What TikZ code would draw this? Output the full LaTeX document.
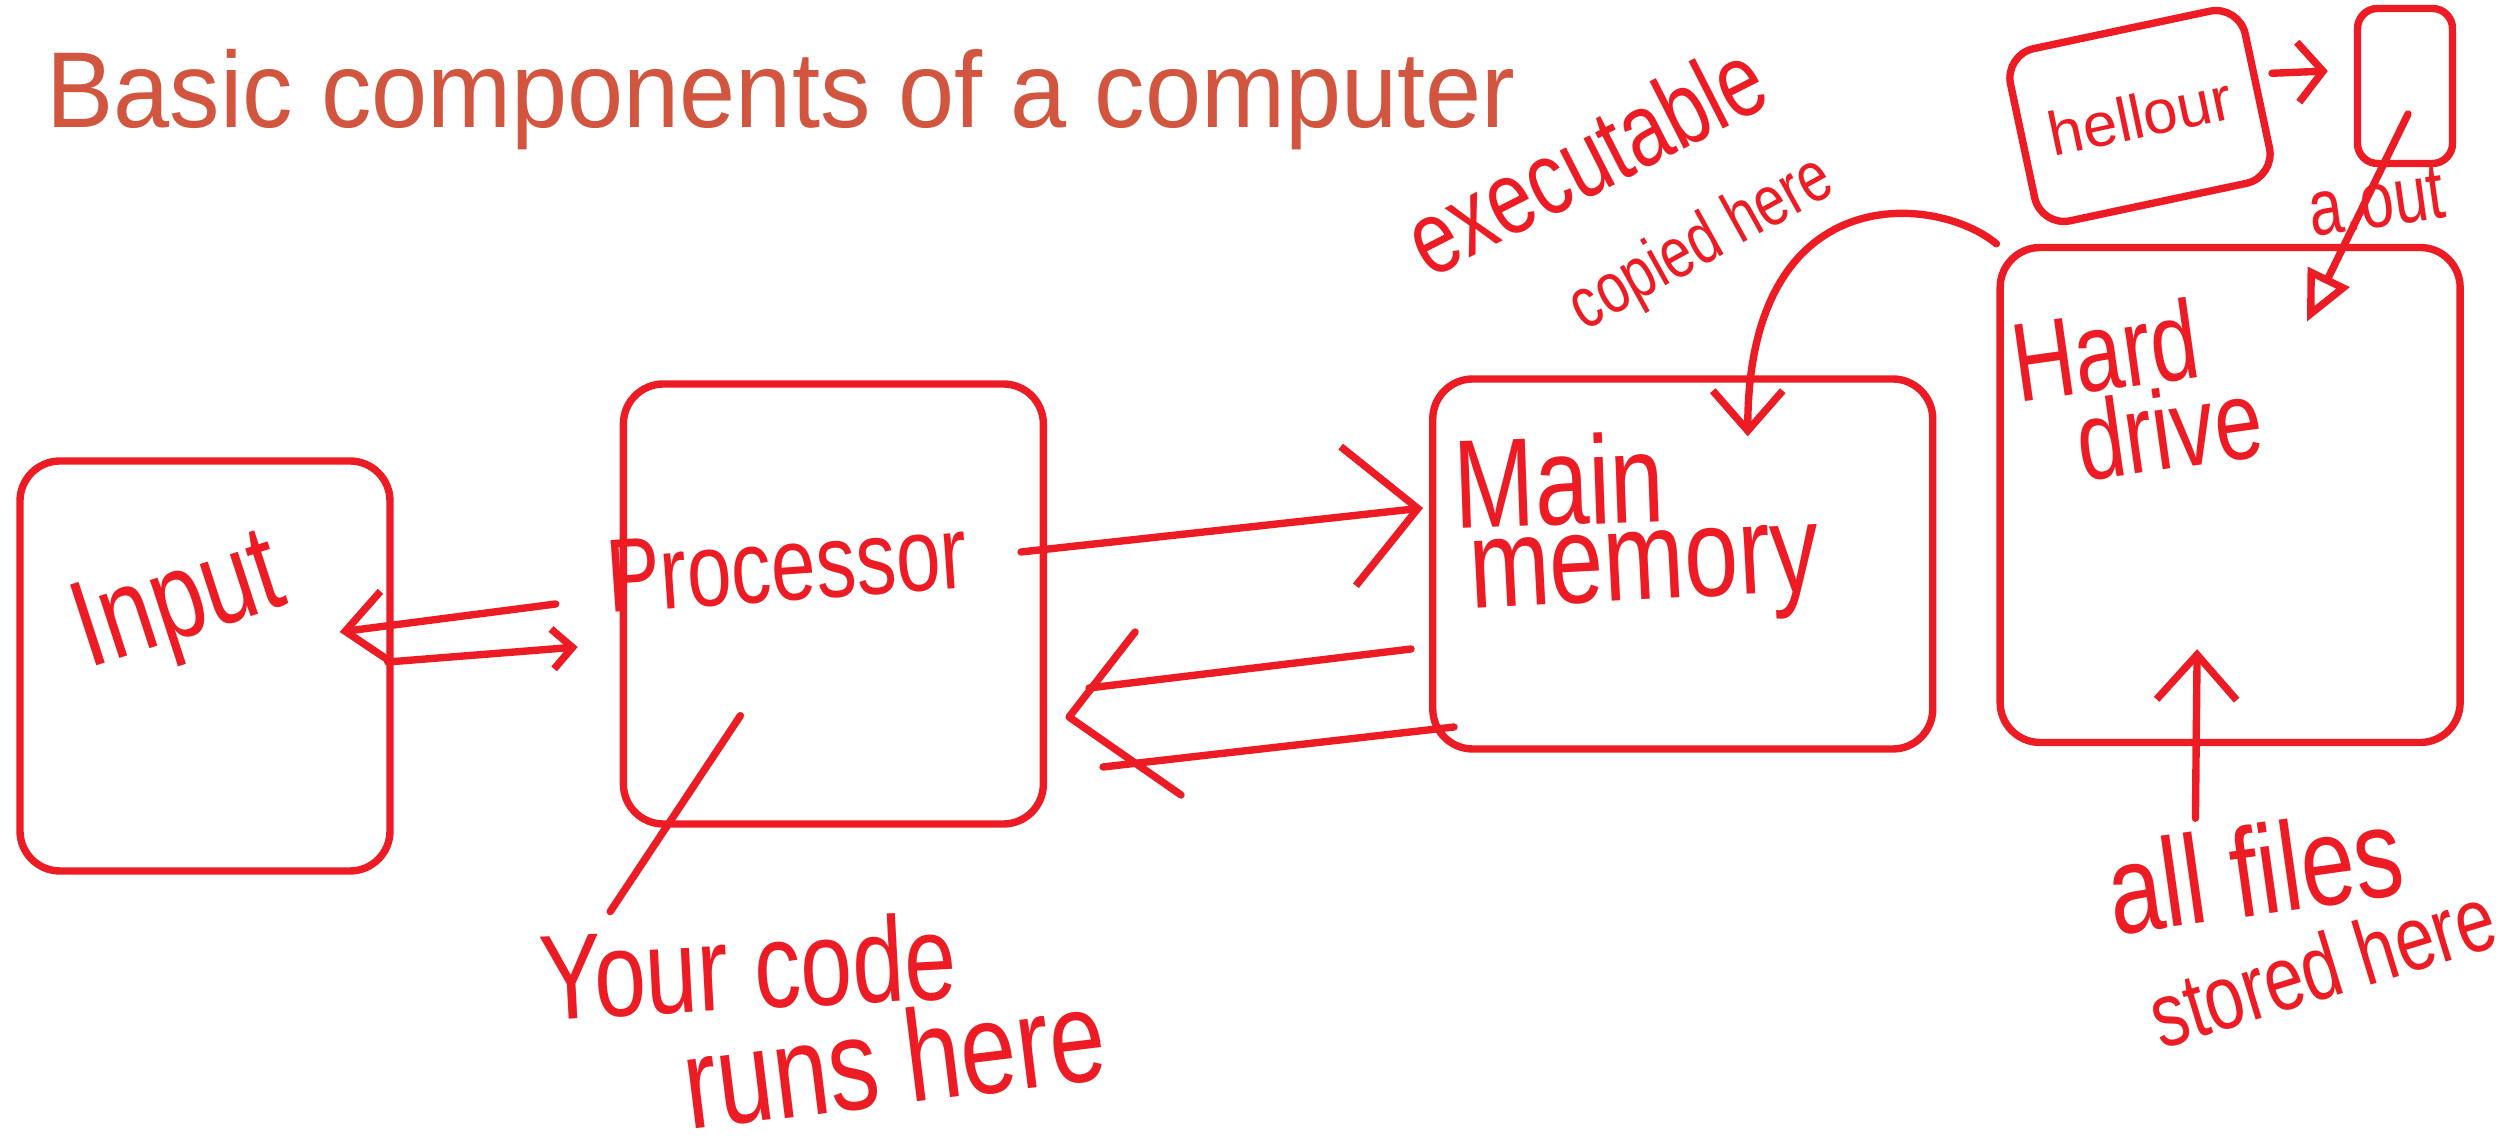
\documentclass[tikz,border=0pt]{standalone}
\usepackage{fontspec}
\setmainfont{Liberation Sans}
\usetikzlibrary{arrows.meta,positioning,calc}

\definecolor{penred}{RGB}{237,28,36}
\definecolor{titlered}{RGB}{210,85,63}

\begin{document}
\begin{tikzpicture}[
    > = {Straight Barb[length=4mm,width=7mm]}, % arrow head style
    pen/.style = {draw=penred, line width=2.1pt, line cap=round, line join=round},
    unit/.style = {pen, rounded corners=4mm, inner sep=0pt},
    hand/.style = {text=penred, inner sep=0pt},
    tall/.style = {yscale=1.3}, % handwriting is taller than the font
    fs/.style = {font=\fontsize{#1}{#1}\selectfont},
    ]

    \path[use as bounding box, fill=white] (0,0) rectangle (25.07,-11.47);

    \node[anchor=base west, text=titlered, fs=30.7] (title) at (0.34,-1.28)
        {\scalebox{0.935}[1]{Basic components of a computer}};

    % the four units
    \node[unit, minimum width=3.7cm, minimum height=4.1cm] (input) at (2.05,-6.66) {};
    \node[unit, minimum width=4.2cm, minimum height=4.4cm] (proc) [right=2.26cm of input, yshift=6.2mm] {};
    \node[unit, minimum width=5cm, minimum height=3.7cm] (mem) [right=3.82cm of proc, yshift=4mm] {};
    \node[unit, minimum width=4.6cm, minimum height=4.95cm] (hdd) [right=0.6cm of mem, yshift=6.9mm] {};

    % files on the drive
    \node[unit, rounded corners=3mm, minimum width=2.4cm, minimum height=1.76cm, rotate=12,
        text=penred, fs=17.6] (hello) at (21.40,-1.16) {hellour};
    \node[unit, rounded corners=2mm, minimum width=0.95cm, minimum height=1.55cm] (aout) at (24.05,-0.86) {};

    % labels
    \node[hand, fs=27, rotate=18, tall] (inputtxt) at (1.80,-6.08) {Input};
    \node[hand, fs=22.8, rotate=4, tall] (proctxt) at (7.87,-5.65) {Processor};
    \node[hand, fs=27.6, rotate=2, tall] (maintxt) at (15.59,-4.80) {Main};
    \node[hand, fs=27.6, rotate=3, tall] (memtxt) at (16.45,-5.79) {memory};
    \node[hand, fs=24.5, rotate=8, tall] (hardtxt) at (21.05,-3.50) {Hard};
    \node[hand, fs=24.5, rotate=8, tall] (drivetxt) at (21.69,-4.29) {drive};
    \node[hand, fs=22.8, rotate=27, tall] (exetxt) at (15.85,-1.58) {executable};
    \node[hand, fs=15.7, rotate=29, tall] (copytxt) at (17.02,-2.45) {copied here};
    \node[hand, fs=26.5, rotate=3, tall] (code1) at (7.48,-9.66) {Your code};
    \node[hand, fs=28.5, rotate=7, tall] (code2) at (8.94,-10.58) {runs here};
    \node[hand, fs=27.6, rotate=8, tall] (files1) at (22.55,-8.70) {all files};
    \node[hand, fs=20, rotate=17, tall] (files2) at (23.22,-9.66) {stored here};

    % processor and input
    \draw[pen,->] ($(proc.west)+(-0.64,0)$) -- ($(input.east)+(-0.54,0.34)$);
    \draw[pen,-{Straight Barb[length=2mm,width=4mm]}] ($(input.east)+(-0.06,0.04)$) -- ($(proc.west)+(-0.42,-0.43)$);

    % processor to memory
    \draw[pen,-{Straight Barb[length=7mm,width=14mm]}] ($(proc.east)+(-0.26,0.52)$) -- ($(mem.west)+(-0.06,0.56)$);

    % memory back to processor
    \coordinate (back) at ($(proc.east)+(0.22,-1.13)$);
    \draw[pen] ($(mem.west)+(-0.18,-0.85)$) -- ($(back)+(0.2,0.29)$)
               ($(mem.west)+(0.25,-1.63)$) -- ($(back)+(0.34,-0.50)$);
    \draw[pen] ($(back)+(0.66,0.85)$) -- (back) -- ($(back)+(1.12,-0.78)$);

    % executable copied from the drive
    \coordinate (copyin) at ($(mem.north)+(0.65,-0.61)$);
    \draw[pen,->] (hdd.north west) .. controls +(-0.6,0.5) and +(0,2.6) .. (copyin);

    % hello compiled to a.out
    \draw[pen,-{Straight Barb[length=2.5mm,width=6mm]}] ($(hello.east)+(0.11,0.17)$) -- ($(aout.west)+(-0.26,0.15)$);
    \draw[pen,-{Triangle[open,length=5mm,width=4.5mm]}] ($(aout.center)+(0.03,-0.28)$) -- ($(hdd.north east)+(-1.57,-0.78)$)
        node[hand, fs=17.4, rotate=8, tall, pos=0.43, xshift=3.5pt] (aoutlbl) {a.out};

    % code and files
    \draw[pen] ($(code1.north west)+(0.73,0.20)$) -- ($(proc.south)+(-0.93,1.12)$);
    \draw[pen,-{Straight Barb[length=4.5mm,width=8mm]}] ($(files1.north)+(-0.53,0.05)$) -- ($(hdd.south)+(-0.33,0.97)$);
\end{tikzpicture}
\end{document}
